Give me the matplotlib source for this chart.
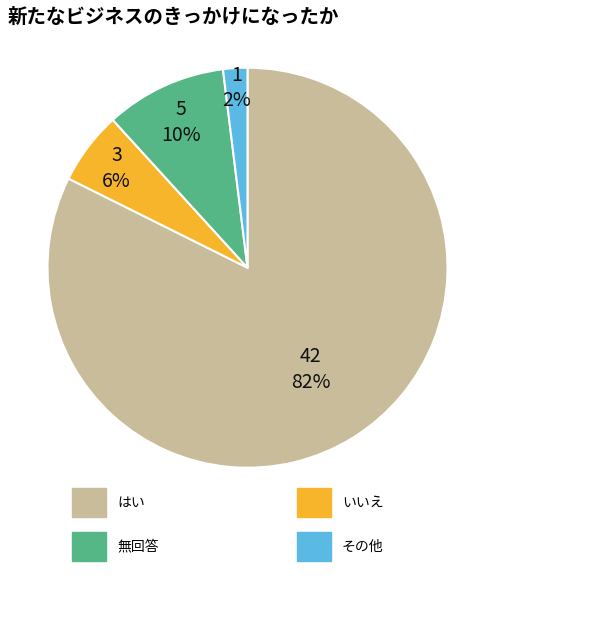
import matplotlib

matplotlib.use("Agg")

from matplotlib import pyplot as plt  # noqa: E402
from matplotlib.patches import Rectangle  # noqa: E402
import numpy as np  # noqa: E402

plt.rcParams["font.family"] = ["Noto Sans CJK JP", "DejaVu Sans"]

categories = ["はい", "いいえ", "無回答", "その他"]
counts = [42, 3, 5, 1]
percents = [82, 6, 10, 2]
colors = ["#C8BC9A", "#F7B52C", "#55B686", "#5BBAE3"]
label_radius = [0.6, 0.82, 0.8, 0.9]

fig = plt.figure(figsize=(6.0, 6.27), dpi=100)
ax = fig.add_axes([0.079, 0.254, 0.667, 0.638])
wedges, _ = ax.pie(counts, colors=colors, startangle=90, counterclock=False,
                   wedgeprops={"edgecolor": "white", "linewidth": 1.5})
ax.set_xlim(-1, 1)
ax.set_ylim(-1, 1)
ax.set_aspect("equal")

for wedge, n, p, r in zip(wedges, counts, percents, label_radius):
    ang = np.deg2rad((wedge.theta1 + wedge.theta2) / 2)
    ax.text(r * np.cos(ang), r * np.sin(ang), f"{n}\n{p}%", ha="center", va="center",
            fontsize=14, linespacing=1.3, color="#111111")

fig.text(0.012, 0.972, "新たなビジネスのきっかけになったか", fontsize=14, fontweight="bold",
         ha="left", va="center")

# legend
positions = [(0.12, 0.175), (0.495, 0.175), (0.12, 0.105), (0.495, 0.105)]
for (x, y), name, c in zip(positions, categories, colors):
    fig.add_artist(Rectangle((x, y), 0.057, 0.046, transform=fig.transFigure, color=c))
    fig.text(x + 0.075, y + 0.023, name, fontsize=10, va="center", ha="left")

fig.savefig("out.png", dpi=100)
